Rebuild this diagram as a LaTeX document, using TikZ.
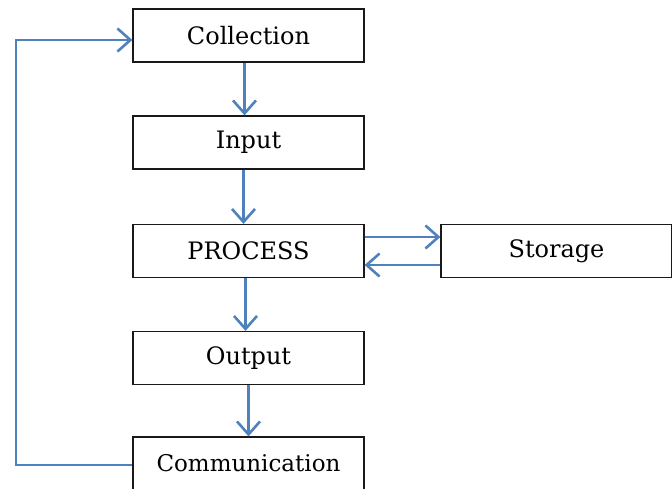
\documentclass[tikz,border=0pt]{standalone}
\usepackage{fontspec}
\setmainfont{DejaVu Serif}
\usetikzlibrary{arrows.meta}
\definecolor{arrowblue}{RGB}{79,129,189}
\begin{document}
\begin{tikzpicture}[x=1pt,y=-1pt,
  box/.style={draw=black!90,line width=1.2pt,minimum width=231pt,minimum height=53pt,inner sep=0pt,font=\fontsize{24}{28}\selectfont},
  flow/.style={draw=arrowblue,line width=2.6pt,-{Straight Barb[length=13pt,width=23pt,line width=2.6pt]}}]
\useasboundingbox (0,0) rectangle (672,488);
\node[box] (col) at (248.5,35.5) {Collection};
\node[box] (inp) at (248.5,142.5) {Input};
\node[box] (pro) at (248.5,251) {PROCESS};
\node[box] (sto) at (556.5,251) {Storage};
\node[box] (out) at (248.5,358) {Output};
\node[box,font=\fontsize{23}{27}\selectfont] (com) at (248.5,463.5) {Communication};
\draw[flow] ([xshift=-4pt]col.south) -- ([xshift=-4pt]inp.north);
\draw[flow] ([xshift=-5pt]inp.south) -- ([xshift=-5pt]pro.north);
\draw[flow] ([xshift=-3pt]pro.south) -- ([xshift=-3pt]out.north);
\draw[flow] (out.south) -- (com.north);
\draw[flow] ([yshift=14pt]pro.east) -- ([yshift=14pt]sto.west);
\draw[flow] ([yshift=-14pt]sto.west) -- ([yshift=-14pt]pro.east);
\coordinate (lb) at (16,465);
\coordinate (lt) at (16,40);
\draw[flow] (com.west |- lb) -- (lb) -- (lt) -- (lt -| col.west);
\end{tikzpicture}
\end{document}
